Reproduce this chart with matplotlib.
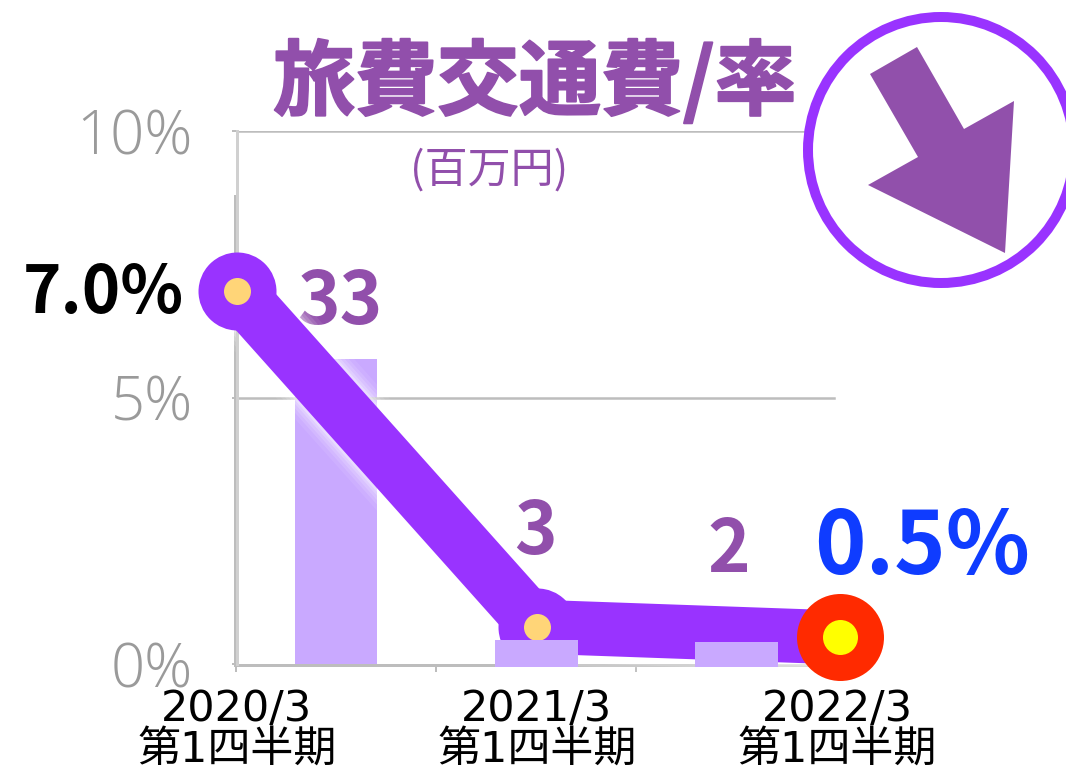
import matplotlib
matplotlib.use("Agg")
import matplotlib.pyplot as plt
import matplotlib.patheffects as pe
from matplotlib.patches import Circle, Polygon
from matplotlib.transforms import ScaledTranslation

plt.rcParams["font.family"] = ["Noto Sans CJK JP", "DejaVu Sans"]

W, H = 1066, 771
DPI = 100

categories = ["2020/3\n第1四半期", "2021/3\n第1四半期", "2022/3\n第1四半期"]
rate_values = [7.0, 0.7, 0.5]
bar_values = [32.7, 2.6, 2.3]
bar_labels = ["33", "3", "2"]
rate_ticks = [0, 5, 10]

PURPLE = "#9933FF"
TEXT_PURPLE = "#914FAB"
BAR_COLOR = "#C9A9FF"
GREY = "#BDBDBD"


def pt(px):
    return px * 72 / DPI


def axes_rect(left, right, top, bottom):
    return [left / W, 1 - bottom / H, (right - left) / W, (bottom - top) / H]


def fig_text(x, y, s, **kwargs):
    kwargs.setdefault("ha", "center")
    kwargs.setdefault("va", "center")
    return fig.text(x / W, 1 - y / H, s, **kwargs)


fig = plt.figure(figsize=(W / DPI, H / DPI), dpi=DPI)

# bars have their own scale, the first one sits under the line
ax_bar = fig.add_axes(axes_rect(236, 836, 197, 665), zorder=1)
ax_bar.bar([0], bar_values[:1], width=0.41, color=BAR_COLOR)
ax_bar.set_xlim(-0.5, 2.5)
ax_bar.set_ylim(0, 50)
ax_bar.set_xticks([-0.5, 0.5, 1.5, 2.5])
ax_bar.set_xticklabels([])
ax_bar.set_yticks([])
ax_bar.tick_params(axis="x", length=pt(7), width=pt(2), color=GREY)
for side in ["top", "right"]:
    ax_bar.spines[side].set_visible(False)
ax_bar.spines["left"].set_color(GREY)
ax_bar.spines["left"].set_linewidth(pt(4))
ax_bar.spines["bottom"].set_color(GREY)
ax_bar.spines["bottom"].set_linewidth(pt(3))

# rate line
ax_line = fig.add_axes(axes_rect(237, 837, 131, 664), zorder=3)
ax_line.patch.set_alpha(0)
x = list(range(len(categories)))
nudge = ax_line.transData + ScaledTranslation(3 / DPI, 0, fig.dpi_scale_trans)
for width, alpha in [(84, 0.08), (76, 0.12), (70, 0.15), (64, 0.2), (59, 0.3)]:
    ax_line.plot(x, rate_values, color="white", alpha=alpha, lw=pt(width),
                 solid_capstyle="butt", clip_on=False, zorder=1)
ax_line.plot(x, rate_values, color=PURPLE, lw=pt(54), solid_capstyle="butt",
             clip_on=False, zorder=3)
ax_line.plot(x[:2], rate_values[:2], "o", ms=pt(78), mfc=PURPLE, mec="none",
             clip_on=False, zorder=4)
ax_line.plot(x[:2], rate_values[:2], "o", ms=pt(27), mfc="#FFD578", mec="none",
             clip_on=False, zorder=5)
ax_line.plot(x[2:], rate_values[2:], "o", ms=pt(87), mfc="#FF2A00", mec="none",
             clip_on=False, zorder=6, transform=nudge)
ax_line.plot(x[2:], rate_values[2:], "o", ms=pt(35), mfc="#FFFF00", mec="none",
             clip_on=False, zorder=7, transform=nudge)
ax_line.set_xlim(0, 2)
ax_line.set_ylim(0, 10)
ax_line.set_xticks(x)
ax_line.set_xticklabels(categories, fontsize=31, color="black", linespacing=0.97,
                        fontfamily=["DejaVu Sans", "Noto Sans CJK JP"])
ax_line.set_yticks(rate_ticks)
ax_line.set_yticklabels([f"{t}%" for t in rate_ticks], fontsize=43,
                        color="#9A9A9A", fontfamily=["Open Sans", "DejaVu Sans"],
                        fontweight="light")
ax_line.tick_params(axis="x", length=0, pad=pt(24))
ax_line.tick_params(axis="y", length=pt(5), width=pt(2), color=GREY, pad=pt(39))
for side in ["top", "right", "bottom"]:
    ax_line.spines[side].set_visible(False)
ax_line.spines["left"].set_color("#D0D0D0")
ax_line.spines["left"].set_linewidth(pt(3))
for t in rate_ticks[1:]:
    ax_line.axhline(t, xmax=0.995, color=GREY, lw=pt(2.5), zorder=0)

# the two small bars lie on top of the line
ax_top = fig.add_axes(axes_rect(236, 836, 197, 665), zorder=4)
ax_top.patch.set_alpha(0)
ax_top.bar([1, 2], bar_values[1:], width=0.4, color=BAR_COLOR,
           edgecolor=BAR_COLOR, linewidth=pt(3), clip_on=False)
ax_top.set_xlim(-0.5, 2.5)
ax_top.set_ylim(0, 50)
ax_top.axis("off")

# overlay for the badge
ax_px = fig.add_axes([0, 0, 1, 1], zorder=6)
ax_px.patch.set_alpha(0)
ax_px.set_xlim(0, W)
ax_px.set_ylim(H, 0)
ax_px.axis("off")
ax_px.add_patch(Circle((941, 150), 133, fc="white", ec=PURPLE, lw=pt(10)))
ax_px.add_patch(Polygon(
    [(917, 47), (870, 74), (918, 157), (868, 185), (1005, 253), (1014, 101), (964, 129)],
    closed=True, fc="#9150AB", ec="none",
))

bold = dict(fontweight="bold")
title = fig_text(535, 84, "旅費交通費/率", fontsize=59, color=TEXT_PURPLE, zorder=5, **bold)
title.set_path_effects([pe.withStroke(linewidth=pt(2), foreground=TEXT_PURPLE)])
fig_text(489, 171, "(百万円)", fontsize=31, color=TEXT_PURPLE, zorder=5)
fig_text(103, 294, "7.0%", fontsize=47, color="black", zorder=5, **bold)
fig_text(922, 549, "0.5%", fontsize=63, color="#0F3CFF", zorder=5, **bold)
fig_text(340, 303, bar_labels[0], fontsize=52, color=TEXT_PURPLE, zorder=2, **bold)
fig_text(535, 533, bar_labels[1], fontsize=52, color=TEXT_PURPLE, zorder=5, **bold)
fig_text(729, 551, bar_labels[2], fontsize=52, color=TEXT_PURPLE, zorder=5, **bold)

fig.savefig("out.png", dpi=DPI)
